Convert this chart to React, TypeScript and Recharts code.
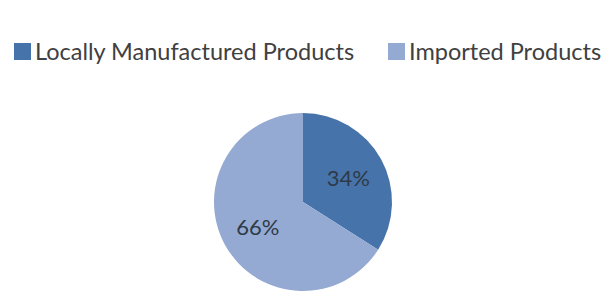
import React from "react";
import { PieChart, Pie, Cell } from "recharts";

const categories = ["Locally Manufactured Products", "Imported Products"];
const shares = [34, 66];
const colors = ["#4673A9", "#94AAD3"];

const data = categories.map((name, i) => ({ name, value: shares[i] }));

// left edge of each legend swatch
const legendLeft = [14, 388];

const RADIAN = Math.PI / 180;

const renderLabel = (props: any) => {
    const { cx, cy, midAngle, outerRadius, value } = props;
    const r = outerRadius * 0.58;
    const x = cx + r * Math.cos(-midAngle * RADIAN);
    const y = cy + r * Math.sin(-midAngle * RADIAN);
    return (
        <text
            x={x}
            y={y}
            fill="#2f3a48"
            fontSize={22}
            fontFamily="Lato, 'Open Sans', sans-serif"
            textAnchor="middle"
            dominantBaseline="central"
        >
            {`${value}%`}
        </text>
    );
};

export default function App() {
    return (
        <div
            style={{
                position: "absolute",
                left: 0,
                top: 0,
                width: 615,
                height: 296,
                background: "#fff",
                overflow: "hidden",
            }}
        >
            {categories.map((name, i) => (
                <div
                    key={name}
                    style={{
                        position: "absolute",
                        left: legendLeft[i],
                        top: 36,
                        display: "flex",
                        alignItems: "center",
                        whiteSpace: "nowrap",
                        fontFamily: "Lato, 'Open Sans', sans-serif",
                        fontSize: 23.5,
                        color: "#404040",
                        lineHeight: "30px",
                    }}
                >
                    <span
                        style={{
                            display: "inline-block",
                            width: 17,
                            height: 17,
                            background: colors[i],
                            marginRight: 4,
                        }}
                    />
                    <span>{name}</span>
                </div>
            ))}
            <PieChart
                width={615}
                height={296}
                margin={{ top: 0, right: 0, bottom: 0, left: 0 }}
            >
                <Pie
                    data={data}
                    dataKey="value"
                    nameKey="name"
                    cx={303}
                    cy={202}
                    outerRadius={89}
                    startAngle={90}
                    endAngle={-270}
                    stroke="none"
                    label={renderLabel}
                    labelLine={false}
                    isAnimationActive={false}
                >
                    {data.map((d, i) => (
                        <Cell key={d.name} fill={colors[i]} />
                    ))}
                </Pie>
            </PieChart>
        </div>
    );
}
